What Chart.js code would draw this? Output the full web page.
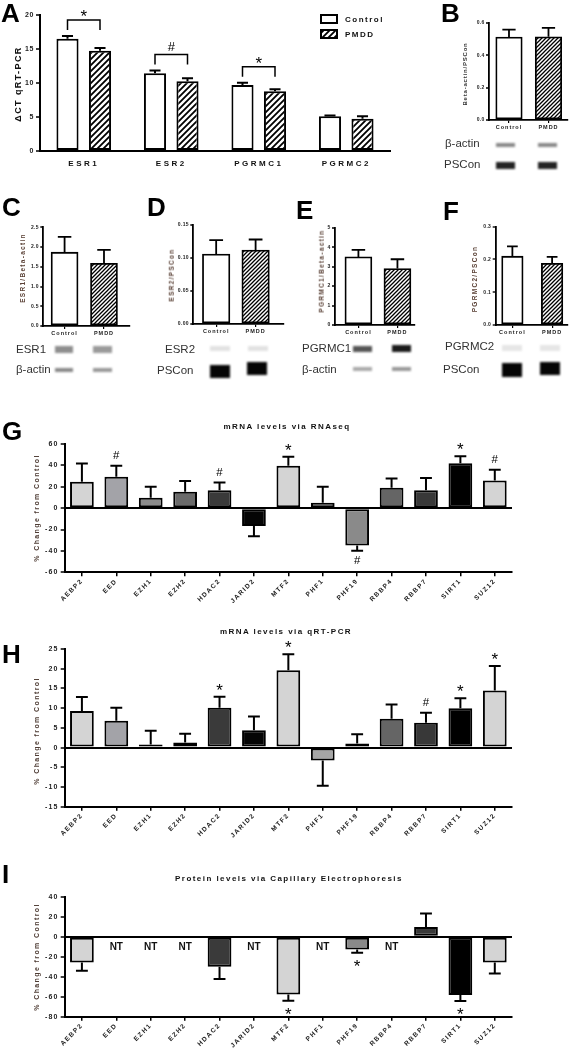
<!DOCTYPE html>
<html>
<head>
<meta charset="utf-8">
<script src="https://cdn.jsdelivr.net/npm/chart.js@4.4.1/dist/chart.umd.min.js"></script>
<style>
  body { margin: 0; width: 570px; height: 1050px; position: relative; overflow: hidden; background: #fff;
         font-family: "Liberation Sans", Arial, sans-serif; }
  canvas { position: absolute; }
  .lt { position: absolute; font-size: 26px; font-weight: bold; line-height: 1; color: #000; }
  .yt { position: absolute; transform: translate(-50%, -50%) rotate(-90deg); white-space: nowrap; font-weight: bold; line-height: 1; }
  .tt { position: absolute; transform: translate(-50%, -50%); white-space: nowrap; font-weight: bold; font-size: 8px;
        letter-spacing: 1.45px; line-height: 1; color: #111; }
  .gl { position: absolute; transform: translateY(-50%); font-size: 11.5px; line-height: 1; color: #333; white-space: nowrap; }
  .band { position: absolute; filter: blur(1px); }
</style>
</head>
<body>
<canvas id="chartA"></canvas>
<canvas id="chartB"></canvas>
<canvas id="chartC"></canvas>
<canvas id="chartD"></canvas>
<canvas id="chartE"></canvas>
<canvas id="chartF"></canvas>
<canvas id="chartG"></canvas>
<canvas id="chartH"></canvas>
<canvas id="chartI"></canvas>

<div class="lt" style="left:1px;top:0px">A</div>
<div class="lt" style="left:441px;top:0px">B</div>
<div class="lt" style="left:2px;top:194px">C</div>
<div class="lt" style="left:147px;top:194px">D</div>
<div class="lt" style="left:296px;top:197px">E</div>
<div class="lt" style="left:443px;top:198px">F</div>
<div class="lt" style="left:2px;top:418px">G</div>
<div class="lt" style="left:2px;top:641px">H</div>
<div class="lt" style="left:2px;top:861px">I</div>

<div class="yt" style="left:18px;top:84px;font-size:9px;letter-spacing:1.4px;color:#111">ΔCT qRT-PCR</div>
<div class="yt" style="left:465px;top:74px;font-size:6px;letter-spacing:0.8px;color:#333">Beta-actin/PSCon</div>
<div class="yt" style="left:23px;top:268px;font-size:6.5px;letter-spacing:1.3px;color:#5b4237">ESR1/Beta-actin</div>
<div class="yt" style="left:172px;top:275px;font-size:6.5px;letter-spacing:1.3px;color:#5b4237">ESR2/PSCon</div>
<div class="yt" style="left:322px;top:271px;font-size:6.5px;letter-spacing:1.3px;color:#5b4237">PGRMC1/Beta-actin</div>
<div class="yt" style="left:475px;top:279px;font-size:6.5px;letter-spacing:1.3px;color:#5b4237">PGRMC2/PSCon</div>
<div class="yt" style="left:36px;top:508px;font-size:7px;letter-spacing:1.4px;color:#4d3b33">% Change from Control</div>
<div class="yt" style="left:36px;top:731px;font-size:7px;letter-spacing:1.4px;color:#4d3b33">% Change from Control</div>
<div class="yt" style="left:36px;top:957px;font-size:7px;letter-spacing:1.4px;color:#4d3b33">% Change from Control</div>

<div class="tt" style="left:287px;top:427px">mRNA levels via RNAseq</div>
<div class="tt" style="left:286px;top:632px">mRNA levels via qRT-PCR</div>
<div class="tt" style="left:289px;top:879px">Protein levels via Capillary Electrophoresis</div>

<!-- capillary electrophoresis lanes -->
<div class="gl" style="left:445px;top:144px">β-actin</div>
<div class="gl" style="left:444px;top:165px">PSCon</div>
<div class="band" style="left:496px;top:143px;width:19px;height:4px;background:#8a8a8a"></div>
<div class="band" style="left:538px;top:143px;width:19px;height:4px;background:#8a8a8a"></div>
<div class="band" style="left:496px;top:162px;width:19px;height:7px;background:#222"></div>
<div class="band" style="left:538px;top:162px;width:19px;height:7px;background:#222"></div>

<div class="gl" style="left:16px;top:350px">ESR1</div>
<div class="gl" style="left:16px;top:370px">β-actin</div>
<div class="band" style="left:55px;top:346px;width:18px;height:7px;background:#8e8e8e"></div>
<div class="band" style="left:93px;top:346px;width:19px;height:7px;background:#9a9a9a"></div>
<div class="band" style="left:55px;top:368px;width:18px;height:4px;background:#8a8a8a"></div>
<div class="band" style="left:93px;top:368px;width:19px;height:4px;background:#999"></div>

<div class="gl" style="left:165px;top:350px">ESR2</div>
<div class="gl" style="left:157px;top:371px">PSCon</div>
<div class="band" style="left:210px;top:346px;width:20px;height:5px;background:#e2e2e2"></div>
<div class="band" style="left:248px;top:346px;width:20px;height:5px;background:#e2e2e2"></div>
<div class="band" style="left:210px;top:365px;width:20px;height:13px;background:#050505"></div>
<div class="band" style="left:247px;top:362px;width:20px;height:13px;background:#050505"></div>

<div class="gl" style="left:302px;top:349px">PGRMC1</div>
<div class="gl" style="left:302px;top:370px">β-actin</div>
<div class="band" style="left:353px;top:346px;width:19px;height:6px;background:#555"></div>
<div class="band" style="left:392px;top:345px;width:19px;height:7px;background:#1a1a1a"></div>
<div class="band" style="left:353px;top:367px;width:19px;height:4px;background:#aaa"></div>
<div class="band" style="left:392px;top:367px;width:19px;height:4px;background:#999"></div>

<div class="gl" style="left:445px;top:347px">PGRMC2</div>
<div class="gl" style="left:443px;top:370px">PSCon</div>
<div class="band" style="left:502px;top:345px;width:20px;height:6px;background:#e6e6e6"></div>
<div class="band" style="left:540px;top:345px;width:20px;height:6px;background:#e6e6e6"></div>
<div class="band" style="left:502px;top:363px;width:20px;height:14px;background:#050505"></div>
<div class="band" style="left:540px;top:362px;width:20px;height:13px;background:#050505"></div>

<script>
// panel A: delta CT by receptor
var aGenes = ["ESR1", "ESR2", "PGRMC1", "PGRMC2"];
var aControl = [16.5, 11.45, 9.7, 5.1];
var aControlSem = [0.4, 0.4, 0.35, 0.12];
var aPmdd = [14.75, 10.25, 8.8, 4.75];
var aPmddSem = [0.4, 0.45, 0.27, 0.35];
var aSig = ["*", "#", "*", ""];
var aTicks = [0, 5, 10, 15, 20];

// panels B-F: capillary electrophoresis ratios
var groups = ["Control", "PMDD"];
var bValues = [0.512, 0.513];
var bSem = [0.045, 0.055];
var bTicks = [0, 0.2, 0.4, 0.6];
var cValues = [1.87, 1.59];
var cSem = [0.39, 0.34];
var cTicks = [0, 0.5, 1, 1.5, 2, 2.5];
var dValues = [0.106, 0.112];
var dSem = [0.021, 0.016];
var dTicks = [0, 0.05, 0.1, 0.15];
var eValues = [3.5, 2.9];
var eSem = [0.36, 0.48];
var eTicks = [0, 1, 2, 3, 4, 5];
var fValues = [0.21, 0.188];
var fSem = [0.03, 0.02];
var fTicks = [0, 0.1, 0.2, 0.3];

// panels G-I: polycomb genes, % change from control
var genes = ["AEBP2", "EED", "EZH1", "EZH2", "HDAC2", "JARID2", "MTF2", "PHF1", "PHF19", "RBBP4", "RBBP7", "SIRT1", "SUZ12"];
var geneColors = ["#d4d4d4", "#a3a3a8", "#8c8c8c", "#6a6a6a", "#3a3a3a", "#050505", "#d4d4d4", "#a5a5a5", "#8a8a8a", "#656565", "#383838", "#000000", "#d4d4d4"];
var rnaseq = [24.6, 29.3, 9.7, 15.3, 16.8, -16.8, 39.6, 5.0, -34.9, 19.0, 16.8, 42.1, 25.9];
var rnaseqSem = [17.1, 10.3, 10.2, 10.2, 7.2, 9.4, 8.4, 14.9, 5.0, 8.7, 11.5, 6.5, 9.9];
var rnaseqSig = ["", "#", "", "", "#", "", "*", "", "#", "", "", "*", "#"];
var rnaseqTicks = [-60, -40, -20, 0, 20, 40, 60];
var qpcr = [9.3, 6.8, 0.8, 1.3, 10.1, 4.4, 19.6, -3.3, 1.0, 7.3, 6.3, 10.0, 14.5];
var qpcrSem = [3.55, 3.3, 3.45, 2.2, 2.8, 3.5, 4.1, 6.4, 2.4, 3.6, 2.5, 2.5, 6.2];
var qpcrSig = ["", "", "", "", "*", "", "*", "", "", "", "#", "*", "*"];
var qpcrTicks = [-15, -10, -5, 0, 5, 10, 15, 20, 25];
var protein = [-25.7, null, null, null, -30, null, -57.7, null, -12.7, null, 9.7, -58.3, -25.7];
var proteinSem = [8.3, null, null, null, 12.3, null, 6.3, null, 3.3, null, 13.6, 6, 11];
var proteinSig = ["", "", "", "", "", "", "*", "", "*", "", "", "*", ""];
var proteinTicks = [-80, -60, -40, -20, 0, 20, 40];

var FONT = '"Liberation Sans", Arial, sans-serif';
Chart.defaults.font.family = FONT;
Chart.defaults.color = "#222";
Chart.defaults.animation = false;
Chart.defaults.events = [];
Chart.defaults.plugins.legend.display = false;
Chart.defaults.plugins.tooltip.enabled = false;

// letter spacing of the category labels, one value per chart
Chart.register({
  id: "spacing",
  beforeLayout: function (chart, args, opts) { chart.ctx.letterSpacing = opts.value || "0px"; },
  beforeDraw: function (chart, args, opts) { chart.ctx.letterSpacing = opts.value || "0px"; }
});

// own letter spacing for the value axis labels
function spacedLabels(value) {
  return function (scale) {
    if (scale._spaced) return;
    var draw = scale.drawLabels;
    scale.drawLabels = function (area) {
      var prev = this.ctx.letterSpacing;
      this.ctx.letterSpacing = value;
      draw.call(this, area);
      this.ctx.letterSpacing = prev;
    };
    scale._spaced = true;
  };
}

function hatch(size, lw) {
  var c = document.createElement("canvas");
  c.width = size;
  c.height = size;
  var g = c.getContext("2d");
  g.fillStyle = "#fff";
  g.fillRect(0, 0, size, size);
  g.strokeStyle = "#000";
  g.lineWidth = lw;
  g.beginPath();
  g.moveTo(-1, size + 1); g.lineTo(size + 1, -1);
  g.moveTo(-1, 1); g.lineTo(1, -1);
  g.moveTo(size - 1, size + 1); g.lineTo(size + 1, size - 1);
  g.stroke();
  return g.createPattern(c, "repeat");
}
var hatchBig = hatch(6, 1.8);
var hatchSmall = hatch(4, 1.3);

function drawMark(ctx, s, x, cy, size) {
  ctx.font = size + "px " + FONT;
  ctx.textAlign = "center";
  ctx.textBaseline = "alphabetic";
  ctx.fillText(s, x, cy + (s === "*" ? 0.58 : 0.36) * size);
}

var errorBars = {
  id: "errorBars",
  afterDatasetsDraw: function (chart, args, opts) {
    var ctx = chart.ctx, y = chart.scales.y;
    ctx.save();
    ctx.letterSpacing = "0px";
    ctx.strokeStyle = "#000";
    ctx.fillStyle = "#000";
    ctx.lineWidth = opts.width || 2;
    chart.data.datasets.forEach(function (ds, i) {
      chart.getDatasetMeta(i).data.forEach(function (bar, j) {
        var v = ds.data[j];
        if (v !== null && typeof v === "object") v = v.y;
        var e = ds.sem ? ds.sem[j] : null;
        if (v === null || v === undefined || e === null || e === undefined) return;
        var up = v >= 0;
        var tip = y.getPixelForValue(up ? v + e : v - e);
        var half = bar.width / 4;
        ctx.beginPath();
        ctx.moveTo(bar.x, bar.y); ctx.lineTo(bar.x, tip);
        ctx.moveTo(bar.x - half, tip); ctx.lineTo(bar.x + half, tip);
        ctx.stroke();
        var s = ds.sig ? ds.sig[j] : "";
        if (s) drawMark(ctx, s, bar.x, up ? tip - 11 : tip + 9, s === "#" ? 11.5 : 17);
      });
    });
    ctx.restore();
  }
};

var bracketsA = {
  id: "bracketsA",
  afterDatasetsDraw: function (chart) {
    var ctx = chart.ctx, y = chart.scales.y;
    var m0 = chart.getDatasetMeta(0), m1 = chart.getDatasetMeta(1);
    ctx.save();
    ctx.letterSpacing = "0px";
    ctx.strokeStyle = "#000";
    ctx.fillStyle = "#000";
    ctx.lineWidth = 1.5;
    aSig.forEach(function (s, i) {
      if (!s) return;
      var tip = Math.min(y.getPixelForValue(aControl[i] + aControlSem[i]), y.getPixelForValue(aPmdd[i] + aPmddSem[i]));
      var top = tip - 16;
      var x0 = m0.data[i].x, x1 = m1.data[i].x;
      ctx.beginPath();
      ctx.moveTo(x0, top + 10); ctx.lineTo(x0, top); ctx.lineTo(x1, top); ctx.lineTo(x1, top + 10);
      ctx.stroke();
      drawMark(ctx, s, (x0 + x1) / 2, top - 8, s === "#" ? 13 : 17);
    });
    ctx.restore();
  }
};

var legendA = {
  id: "legendA",
  afterDraw: function (chart) {
    var ctx = chart.ctx, area = chart.chartArea;
    ctx.save();
    ctx.letterSpacing = "1.5px";
    ctx.font = "bold 8px " + FONT;
    ctx.textBaseline = "middle";
    chart.data.datasets.forEach(function (ds, i) {
      var x = area.right - 69, y = area.top + i * 15;
      ctx.fillStyle = ds.backgroundColor;
      ctx.fillRect(x, y, 16, 8);
      ctx.lineWidth = 2;
      ctx.strokeStyle = "#000";
      ctx.strokeRect(x, y, 16, 8);
      ctx.fillStyle = "#111";
      ctx.fillText(ds.label, x + 24, y + 4.5);
    });
    ctx.restore();
  }
};

var notTested = {
  id: "notTested",
  afterDatasetsDraw: function (chart) {
    var ctx = chart.ctx, x = chart.scales.x, y = chart.scales.y;
    ctx.save();
    ctx.letterSpacing = "0px";
    ctx.font = "bold 10px " + FONT;
    ctx.fillStyle = "#111";
    ctx.textAlign = "center";
    ctx.textBaseline = "middle";
    protein.forEach(function (v, i) {
      if (v === null) ctx.fillText("NT", x.getPixelForValue(i), y.getPixelForValue(0) + 11);
    });
    ctx.restore();
  }
};

// box = [left, top, width, height] of the canvas, area = [left, right, top, bottom] of the plot
function makeChart(id, box, area, config) {
  var canvas = document.getElementById(id);
  canvas.width = box[2];
  canvas.height = box[3];
  canvas.style.left = box[0] + "px";
  canvas.style.top = box[1] + "px";
  var o = config.options;
  o.responsive = false;
  o.maintainAspectRatio = false;
  o.layout = { padding: { left: 0, bottom: 0, top: area[2] - box[1], right: box[0] + box[2] - area[1] } };
  o.scales.x.afterFit = function (s) { s.height = box[1] + box[3] - area[3]; };
  o.scales.y.afterFit = function (s) { s.width = area[0] - box[0]; };
  return new Chart(canvas, config);
}

function axisY(ticks, fmt, size, lw, spacing, tickLen, zeroLine) {
  return {
    min: ticks[0],
    max: ticks[ticks.length - 1],
    afterBuildTicks: function (s) { s.ticks = ticks.map(function (v) { return { value: v }; }); },
    afterUpdate: spacedLabels(spacing),
    ticks: { callback: fmt, font: { size: size, weight: "bold" }, padding: 2, color: "#222" },
    grid: {
      drawOnChartArea: !!zeroLine,
      color: function (c) { return zeroLine && c.tick && c.tick.value === 0 ? "#000" : "rgba(0,0,0,0)"; },
      lineWidth: 2, tickColor: "#000", tickWidth: lw * 0.75, tickLength: tickLen
    },
    border: { color: "#000", width: lw }
  };
}

function fixed(n) { return function (v) { return v.toFixed(n); }; }

makeChart("chartA", [0, 0, 440, 185], [40, 390, 15, 151], {
  type: "bar",
  data: {
    labels: aGenes,
    datasets: [
      { label: "Control", data: aControl, sem: aControlSem, backgroundColor: "#fff" },
      { label: "PMDD", data: aPmdd, sem: aPmddSem, backgroundColor: hatchBig }
    ]
  },
  options: {
    datasets: { bar: { borderColor: "#000", borderWidth: 2, borderSkipped: false, categoryPercentage: 0.743, barPercentage: 0.68 } },
    plugins: { spacing: { value: "2.5px" }, errorBars: { width: 2 } },
    scales: {
      x: { ticks: { font: { size: 8, weight: "bold" }, padding: 8, color: "#111" }, grid: { display: false, drawTicks: false }, border: { color: "#000", width: 2 } },
      y: axisY(aTicks, function (v) { return String(v); }, 7, 2, "0.6px", 4)
    }
  },
  plugins: [errorBars, bracketsA, legendA]
});

function pairChart(id, box, area, values, sem, ticks, fmt, range, barW) {
  var y = axisY(ticks, fmt, 5, 1.8, "0.3px", 3);
  y.ticks.padding = 1.5;
  return makeChart(id, box, area, {
    type: "bar",
    data: {
      datasets: [{
        data: values.map(function (v, i) { return { x: i, y: v }; }),
        sem: sem,
        backgroundColor: ["#fff", hatchSmall],
        borderColor: "#000", borderWidth: 1.8, borderSkipped: false, barThickness: barW
      }]
    },
    options: {
      plugins: { spacing: { value: "1px" }, errorBars: { width: 1.8 } },
      scales: {
        x: {
          type: "linear", offset: false, min: range[0], max: range[1],
          afterBuildTicks: function (s) { s.ticks = groups.map(function (g, i) { return { value: i }; }); },
          ticks: { callback: function (v) { return groups[v]; }, font: { size: 5.5, weight: "bold" }, padding: 1, maxRotation: 0, autoSkip: false, color: "#222" },
          grid: { drawOnChartArea: false, offset: false, tickLength: 3, color: "#000", lineWidth: 1.2 },
          border: { color: "#000", width: 1.8 }
        },
        y: y
      }
    },
    plugins: [errorBars]
  });
}

pairChart("chartB", [440, 0, 130, 135], [489, 568, 22.7, 120], bValues, bSem, bTicks, fixed(1), [-0.506, 1.494], 26.5);
pairChart("chartC", [0, 190, 145, 150], [43.3, 130, 227.3, 326], cValues, cSem, cTicks, fixed(1), [-0.54, 1.66], 27);
pairChart("chartD", [145, 190, 145, 150], [193.3, 284, 225, 324], dValues, dSem, dTicks, fixed(2), [-0.58, 1.72], 27.5);
pairChart("chartE", [290, 190, 135, 150], [335, 415, 227.7, 325], eValues, eSem, eTicks, fixed(0), [-0.6, 1.45], 27);
pairChart("chartF", [425, 190, 145, 150], [495.7, 568, 226.7, 325], fValues, fSem, fTicks, fixed(1), [-0.42, 1.4], 21.5);

function geneChart(id, box, area, values, sem, sig, ticks, extra) {
  return makeChart(id, box, area, {
    type: "bar",
    data: {
      labels: genes,
      datasets: [{
        data: values, sem: sem, sig: sig,
        backgroundColor: geneColors, borderColor: "#000", borderWidth: 2, borderSkipped: false,
        categoryPercentage: 1, barPercentage: 0.69
      }]
    },
    options: {
      plugins: { spacing: { value: "1.4px" }, errorBars: { width: 2 } },
      scales: {
        x: {
          ticks: { autoSkip: false, minRotation: 45, maxRotation: 45, font: { size: 6.5, weight: "bold" }, padding: 1, color: "#222" },
          grid: { offset: false, drawOnChartArea: false, tickLength: 4, color: "#000", lineWidth: 1.5 },
          border: { color: "#000", width: 2 }
        },
        y: axisY(ticks, function (v) { return String(v); }, 7, 2, "1.2px", 4, true)
      }
    },
    plugins: [errorBars].concat(extra || [])
  });
}

geneChart("chartG", [0, 415, 570, 195], [64.7, 512, 444, 572.3], rnaseq, rnaseqSem, rnaseqSig, rnaseqTicks);
geneChart("chartH", [0, 622, 570, 225], [64.7, 512, 649, 806.7], qpcr, qpcrSem, qpcrSig, qpcrTicks);
geneChart("chartI", [0, 860, 570, 190], [64.7, 512, 896.7, 1016.7], protein, proteinSem, proteinSig, proteinTicks, [notTested]);
</script>
</body>
</html>
